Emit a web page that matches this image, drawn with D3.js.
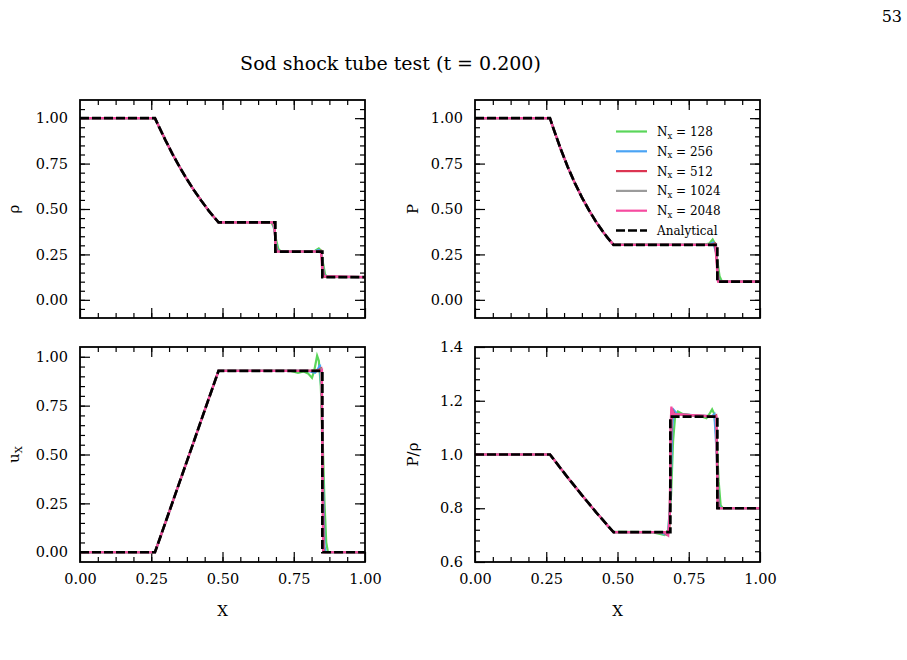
<!DOCTYPE html>
<html>
<head>
<meta charset="utf-8">
<script src="https://cdn.jsdelivr.net/npm/d3@7"></script>
<style>
  body { margin: 0; background: #fff; }
  svg { display: block; font-family: "DejaVu Serif", serif; }
</style>
</head>
<body>
<script>
// series / colours
const resolutions = [128, 256, 512, 1024, 2048]
const seriesColors = ["#5ad65a", "#4ba4f4", "#dc3552", "#9b9b9b", "#f64ba0"]

// tick labels
const xTicks = [0, 0.25, 0.5, 0.75, 1]
const unitTicks = [0, 0.25, 0.5, 0.75, 1]
const tempTicks = [0.6, 0.8, 1.0, 1.2, 1.4]

// rarefaction fan, shared by every curve
const rarefX = [0.263, 0.275, 0.30, 0.325, 0.35, 0.375, 0.40, 0.425, 0.45, 0.465, 0.486]
const rarefRho = [1.0, 0.960, 0.878, 0.801, 0.730, 0.664, 0.603, 0.547, 0.494, 0.465, 0.426]
const rarefP = [1.0, 0.944, 0.833, 0.733, 0.644, 0.564, 0.493, 0.429, 0.373, 0.342, 0.303]
const rarefU = [0.0, 0.049, 0.153, 0.257, 0.361, 0.465, 0.569, 0.674, 0.778, 0.840, 0.928]
const rarefT = [1.0, 0.984, 0.949, 0.915, 0.882, 0.849, 0.817, 0.785, 0.755, 0.736, 0.711]

// analytical, right of the fan
const rhoExactTail = [[0.6855, 0.426], [0.6855, 0.2656], [0.8504, 0.2656], [0.8504, 0.125], [1, 0.125]]
const pExactTail = [[0.8504, 0.303], [0.8504, 0.1], [1, 0.1]]
const uExactTail = [[0.8504, 0.9275], [0.8504, 0], [1, 0]]
const tExactTail = [[0.6855, 0.711], [0.6855, 1.141], [0.8504, 1.141], [0.8504, 0.8], [1, 0.8]]

// numerical runs, right of the fan (one list per resolution)
const rhoTails = [
  [[0.50, 0.428], [0.66, 0.427], [0.672, 0.424], [0.68, 0.40], [0.688, 0.33], [0.696, 0.28], [0.705, 0.266], [0.80, 0.266], [0.825, 0.27], [0.838, 0.283], [0.846, 0.27], [0.853, 0.20], [0.86, 0.14], [0.868, 0.126], [1, 0.125]],
  [[0.50, 0.427], [0.668, 0.427], [0.678, 0.42], [0.684, 0.36], [0.69, 0.285], [0.698, 0.266], [0.82, 0.266], [0.838, 0.274], [0.848, 0.25], [0.855, 0.15], [0.86, 0.126], [1, 0.125]],
  [[0.50, 0.426], [0.676, 0.426], [0.682, 0.40], [0.687, 0.30], [0.692, 0.267], [0.835, 0.266], [0.845, 0.27], [0.852, 0.18], [0.856, 0.126], [1, 0.125]],
  [[0.50, 0.426], [0.679, 0.426], [0.684, 0.36], [0.689, 0.268], [0.84, 0.266], [0.847, 0.268], [0.852, 0.13], [1, 0.125]],
  [[0.50, 0.426], [0.682, 0.426], [0.686, 0.30], [0.688, 0.266], [0.846, 0.266], [0.851, 0.13], [1, 0.125]]
]
const pTails = [
  [[0.50, 0.304], [0.80, 0.303], [0.822, 0.31], [0.834, 0.332], [0.842, 0.31], [0.85, 0.22], [0.858, 0.13], [0.866, 0.102], [1, 0.1]],
  [[0.50, 0.303], [0.82, 0.303], [0.836, 0.315], [0.846, 0.26], [0.854, 0.12], [0.86, 0.1], [1, 0.1]],
  [[0.50, 0.303], [0.83, 0.303], [0.842, 0.31], [0.85, 0.18], [0.855, 0.1], [1, 0.1]],
  [[0.50, 0.303], [0.84, 0.303], [0.846, 0.306], [0.852, 0.12], [0.855, 0.1], [1, 0.1]],
  [[0.50, 0.303], [0.845, 0.303], [0.851, 0.11], [0.853, 0.1], [1, 0.1]]
]
const uTails = [
  [[0.50, 0.928], [0.74, 0.928], [0.765, 0.918], [0.785, 0.925], [0.80, 0.915], [0.814, 0.892], [0.822, 0.93], [0.832, 1.005], [0.838, 0.98], [0.845, 0.85], [0.852, 0.55], [0.858, 0.25], [0.864, 0.05], [0.87, 0], [1, 0]],
  [[0.50, 0.928], [0.80, 0.928], [0.825, 0.918], [0.836, 0.94], [0.842, 0.96], [0.848, 0.80], [0.853, 0.35], [0.858, 0.03], [0.862, 0], [1, 0]],
  [[0.50, 0.928], [0.83, 0.928], [0.84, 0.935], [0.846, 0.94], [0.851, 0.5], [0.855, 0.02], [0.857, 0], [1, 0]],
  [[0.50, 0.928], [0.84, 0.928], [0.846, 0.935], [0.851, 0.4], [0.854, 0], [1, 0]],
  [[0.50, 0.928], [0.845, 0.928], [0.849, 0.932], [0.851, 0.3], [0.853, 0], [1, 0]]
]
const tTails = [
  [[0.50, 0.712], [0.62, 0.711], [0.645, 0.705], [0.665, 0.70], [0.678, 0.72], [0.688, 0.85], [0.695, 1.05], [0.702, 1.14], [0.712, 1.16], [0.73, 1.15], [0.77, 1.145], [0.80, 1.14], [0.812, 1.135], [0.822, 1.15], [0.832, 1.168], [0.84, 1.15], [0.848, 1.05], [0.855, 0.90], [0.862, 0.81], [0.87, 0.8], [1, 0.8]],
  [[0.50, 0.711], [0.65, 0.711], [0.665, 0.703], [0.678, 0.708], [0.686, 0.85], [0.692, 1.10], [0.698, 1.165], [0.71, 1.15], [0.83, 1.142], [0.84, 1.15], [0.848, 1.0], [0.855, 0.82], [0.86, 0.8], [1, 0.8]],
  [[0.50, 0.711], [0.66, 0.711], [0.672, 0.702], [0.682, 0.72], [0.687, 1.0], [0.691, 1.17], [0.70, 1.15], [0.84, 1.141], [0.846, 1.145], [0.851, 0.9], [0.855, 0.8], [1, 0.8]],
  [[0.50, 0.711], [0.665, 0.711], [0.676, 0.70], [0.683, 0.75], [0.686, 1.05], [0.69, 1.17], [0.697, 1.15], [0.845, 1.141], [0.851, 0.85], [0.853, 0.8], [1, 0.8]],
  [[0.50, 0.711], [0.668, 0.711], [0.678, 0.70], [0.684, 0.78], [0.686, 1.1], [0.689, 1.178], [0.695, 1.15], [0.847, 1.141], [0.851, 0.82], [0.852, 0.8], [1, 0.8]]
]

// panel setup
const panels = [
  { label: [["ρ"]], col: 0, row: 0, domain: [-0.1, 1.1], ticks: unitTicks, fmt: ".2f", left: 1, raref: rarefRho, tails: rhoTails, exact: rhoExactTail },
  { label: [["P"]], col: 1, row: 0, domain: [-0.1, 1.1], ticks: unitTicks, fmt: ".2f", left: 1, raref: rarefP, tails: pTails, exact: pExactTail, legend: true },
  { label: [["u"], ["X", true]], col: 0, row: 1, domain: [-0.05, 1.05], ticks: unitTicks, fmt: ".2f", left: 0, raref: rarefU, tails: uTails, exact: uExactTail },
  { label: [["P/ρ"]], col: 1, row: 1, domain: [0.6, 1.4], ticks: tempTicks, fmt: ".1f", left: 1, raref: rarefT, tails: tTails, exact: tExactTail }
]

const W = 907, H = 660
const svg = d3.select("body").append("svg").attr("width", W).attr("height", H)

svg.append("text")
  .attr("x", 390.5).attr("y", 70)
  .attr("text-anchor", "middle")
  .attr("font-size", 19)
  .text("Sod shock tube test (t = 0.200)")

svg.append("text")
  .attr("x", 902).attr("y", 22)
  .attr("text-anchor", "end")
  .attr("font-size", 16)
  .text("53")

const inside = (vals, dom) => vals.filter(v => v > dom[0] + 1e-9 && v < dom[1] - 1e-9)

const drawPanel = (p, i) => {
  const x0 = p.col ? 475 : 80
  const y0 = p.row ? 347 : 100
  const pw = 285, ph = p.row ? 215 : 218

  const x = d3.scaleLinear().domain([0, 1]).range([x0, x0 + pw])
  const y = d3.scaleLinear().domain(p.domain).range([y0 + ph, y0])

  const g = svg.append("g")

  const step = (p.ticks[1] - p.ticks[0]) / 5
  const yMinor = inside(d3.range(p.ticks[0] - 5 * step, p.domain[1] + step / 2, step).map(v => +v.toFixed(4)), p.domain)
  const xMinor = inside(d3.range(0, 1.0001, 0.0625), [0, 1])
  const yMajor = inside(p.ticks, p.domain)
  const xMajor = inside(xTicks, [0, 1])

  const axes = [
    [d3.axisLeft(y).tickValues(yMinor).tickSize(-5).tickFormat(""), `translate(${x0},0)`],
    [d3.axisRight(y).tickValues(yMinor).tickSize(-5).tickFormat(""), `translate(${x0 + pw},0)`],
    [d3.axisBottom(x).tickValues(xMinor).tickSize(-5).tickFormat(""), `translate(0,${y0 + ph})`],
    [d3.axisTop(x).tickValues(xMinor).tickSize(-5).tickFormat(""), `translate(0,${y0})`],
    [d3.axisRight(y).tickValues(yMajor).tickSize(-10).tickFormat(""), `translate(${x0 + pw},0)`],
    [d3.axisTop(x).tickValues(xMajor).tickSize(-10).tickFormat(""), `translate(0,${y0})`],
    [d3.axisLeft(y).tickValues(p.ticks).tickSize(-10).tickPadding(12).tickFormat(d3.format(p.fmt)), `translate(${x0},0)`],
    [d3.axisBottom(x).tickValues(xTicks).tickSize(-10).tickPadding(12).tickFormat(p.row ? d3.format(".2f") : ""), `translate(0,${y0 + ph})`]
  ]
  axes.forEach(([ax, tr]) => {
    const a = g.append("g").attr("transform", tr).call(ax)
    a.select(".domain").remove()
    a.selectAll(".tick line").attr("stroke", "#000").attr("stroke-width", 1.2)
    a.selectAll(".tick text").attr("font-family", "DejaVu Serif").attr("font-size", 14.5).attr("fill", "#000")
  })

  const clipId = "clip" + i
  svg.append("clipPath").attr("id", clipId)
    .append("rect").attr("x", x0).attr("y", y0).attr("width", pw).attr("height", ph)

  const line = d3.line().x(d => x(d[0])).y(d => y(d[1]))
  const head = [[0, p.left]].concat(rarefX.map((v, k) => [v, p.raref[k]]))
  const plot = g.append("g").attr("clip-path", `url(#${clipId})`)

  p.tails.forEach((tail, k) => {
    plot.append("path")
      .attr("d", line(head.concat(tail)))
      .attr("fill", "none")
      .attr("stroke", seriesColors[k])
      .attr("stroke-width", 2.2)
  })
  plot.append("path")
    .attr("d", line(head.concat(p.exact)))
    .attr("fill", "none")
    .attr("stroke", "#000")
    .attr("stroke-width", 2.7)
    .attr("stroke-dasharray", "9,3")

  g.append("rect")
    .attr("x", x0).attr("y", y0).attr("width", pw).attr("height", ph)
    .attr("fill", "none").attr("stroke", "#000").attr("stroke-width", 1.8)

  // y label
  const lx = p.col ? 418 : 19
  const lab = g.append("text")
    .attr("transform", `translate(${lx},${y0 + ph / 2}) rotate(-90)`)
    .attr("text-anchor", "middle")
    .attr("font-size", 15)
  p.label.forEach(([s, sub]) => {
    lab.append("tspan").text(s)
      .attr("font-size", sub ? 10 : null)
      .attr("dy", sub ? 3 : null)
  })

  if (p.row) {
    g.append("text")
      .attr("x", x0 + pw / 2).attr("y", 616)
      .attr("text-anchor", "middle")
      .attr("font-size", 15)
      .text("X")
  }

  if (p.legend) {
    const lg = g.append("g").attr("transform", `translate(${x0 + 141},${y0 + 31.5})`)
    resolutions.forEach((r, k) => {
      const row = lg.append("g").attr("transform", `translate(0,${k * 19.8})`)
      row.append("line").attr("x1", 0).attr("x2", 31)
        .attr("stroke", seriesColors[k]).attr("stroke-width", 2.2)
      const t = row.append("text").attr("x", 41).attr("y", 4.5).attr("font-size", 12)
      t.append("tspan").text("N")
      t.append("tspan").text("x").attr("font-size", 8.5).attr("dy", 2.5)
      t.append("tspan").text(" = " + r).attr("dy", -2.5)
    })
    const row = lg.append("g").attr("transform", `translate(0,${5 * 19.8})`)
    row.append("line").attr("x1", 0).attr("x2", 31)
      .attr("stroke", "#000").attr("stroke-width", 2.7).attr("stroke-dasharray", "9,3")
    row.append("text").attr("x", 41).attr("y", 4.5).attr("font-size", 12).text("Analytical")
  }
}

panels.forEach(drawPanel)
</script>
</body>
</html>
